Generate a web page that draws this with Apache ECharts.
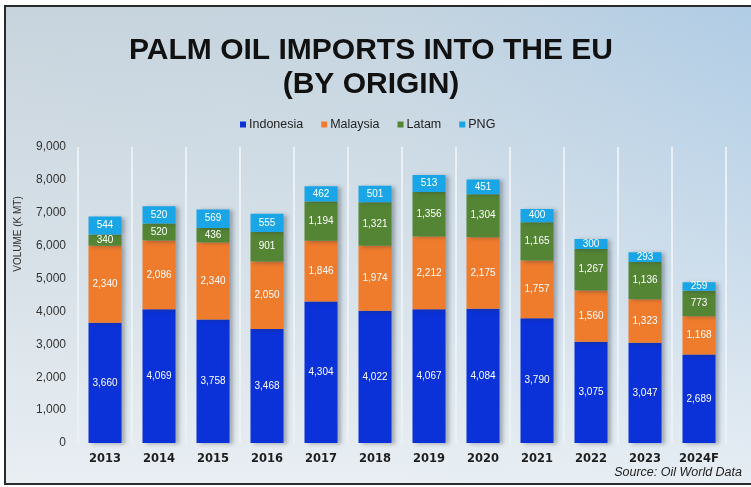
<!DOCTYPE html>
<html>
<head>
<meta charset="utf-8">
<script src="https://cdn.jsdelivr.net/npm/echarts@6/dist/echarts.min.js"></script>
<style>
  html, body { margin: 0; padding: 0; background: #ffffff; }
  #frame {
    position: absolute; left: 4px; top: 5px; width: 800px; height: 476px;
    border-top: 2px solid #2a2a2a; border-left: 2px solid #2a2a2a; border-bottom: 2px solid #2a2a2a;
    background:
      linear-gradient(to bottom, rgba(232,238,243,0) 0%, rgba(232,238,243,0.5) 55%, rgba(236,241,245,0.9) 100%),
      linear-gradient(to right, #c8d4dd 0%, #c4d4e0 50%, #adcbe6 100%);
  }
  #chart { position: absolute; left: 0; top: 0; width: 751px; height: 487px; }
</style>
</head>
<body>
<div id="frame"></div>
<div id="chart"></div>
<script>
// Palm oil imports into the EU by origin, thousand metric tonnes
const years = ['2013', '2014', '2015', '2016', '2017', '2018', '2019', '2020', '2021', '2022', '2023', '2024F'];
const indonesia = [3660, 4069, 3758, 3468, 4304, 4022, 4067, 4084, 3790, 3075, 3047, 2689];
const malaysia  = [2340, 2086, 2340, 2050, 1846, 1974, 2212, 2175, 1757, 1560, 1323, 1168];
const latam     = [340, 520, 436, 901, 1194, 1321, 1356, 1304, 1165, 1267, 1136, 773];
const png       = [544, 520, 569, 555, 462, 501, 513, 451, 400, 300, 293, 259];
const yTicks    = [0, 1000, 2000, 3000, 4000, 5000, 6000, 7000, 8000, 9000];

const fmt = v => Number(v).toLocaleString('en-US');
const font = '"Liberation Sans", Arial, sans-serif';

function stackSeries(name, data, color) {
  return {
    name, type: 'bar', stack: 'total', data, barWidth: 33,
    itemStyle: {
      color,
      shadowColor: 'rgba(40,50,60,0.35)', shadowBlur: 4, shadowOffsetX: 3, shadowOffsetY: 1
    },
    label: {
      show: true, position: 'inside', color: '#ffffff',
      fontFamily: font, fontSize: 10,
      formatter: p => fmt(p.value)
    }
  };
}

const chart = echarts.init(document.getElementById('chart'), null, { renderer: 'canvas' });
chart.setOption({
  backgroundColor: 'transparent',
  animation: false,
  textStyle: { fontFamily: font },
  title: {
    text: 'PALM OIL IMPORTS INTO THE EU\n(BY ORIGIN)',
    left: 366, top: 29, textAlign: 'center',
    textStyle: { fontFamily: font, fontWeight: 'bold', fontSize: 30, color: '#111111', lineHeight: 34 }
  },
  legend: {
    top: 113, left: 235,
    icon: 'rect', itemWidth: 6, itemHeight: 6, itemGap: 18,
    textStyle: { fontSize: 12.5, color: '#222222', fontFamily: font, padding: [0, 0, 0, -2] },
    data: ['Indonesia', 'Malaysia', 'Latam', 'PNG']
  },
  grid: { left: 78, right: 25, top: 147, bottom: 44, containLabel: false },
  xAxis: {
    type: 'category', data: years,
    axisLine: { show: false }, axisTick: { show: false },
    axisLabel: { margin: 10, fontFamily: '"DejaVu Sans", sans-serif', fontWeight: 'bold', fontSize: 11.5, color: '#1e1e1e' },
    splitLine: { show: true, lineStyle: { color: 'rgba(236,241,245,0.95)', width: 2 } }
  },
  yAxis: {
    type: 'value', min: yTicks[0], max: yTicks[yTicks.length - 1], interval: 1000,
    axisLine: { show: false }, axisTick: { show: false },
    splitLine: { show: false },
    axisLabel: { margin: 12, fontSize: 12, color: '#333333', fontFamily: font, formatter: v => fmt(v) }
  },
  graphic: [
    {
      type: 'text', x: 18, y: 234, rotation: Math.PI / 2,
      style: { text: 'VOLUME (K MT)', fontFamily: font, fontSize: 10, fill: '#333333', textAlign: 'center', textVerticalAlign: 'middle' }
    },
    {
      type: 'text', right: 9, top: 466,
      style: { text: 'Source: Oil World Data', fontFamily: font, fontStyle: 'italic', fontSize: 12.5, fill: '#222222' }
    }
  ],
  series: [
    stackSeries('Indonesia', indonesia, '#0b31d8'),
    stackSeries('Malaysia', malaysia, '#ef7b2d'),
    stackSeries('Latam', latam, '#548534'),
    stackSeries('PNG', png, '#1aa6e6')
  ]
});
</script>
</body>
</html>
